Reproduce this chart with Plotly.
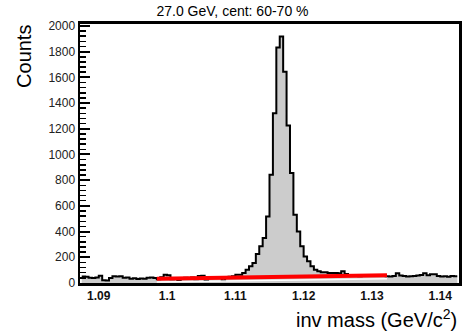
import plotly.graph_objects as go

# ---------------- data ----------------
bin_low = 1.0875
bin_width = 0.0005
counts = [
    50, 48, 40, 38, 42, 57, 22, 20, 38, 52,
    50, 52, 40, 42, 34, 36, 32, 35, 34, 40,
    42, 38, 30, 45, 65, 60, 30, 35, 18, 38,
    40, 35, 42, 30, 55, 57, 20, 40, 44, 38,
    45, 22, 42, 48, 52, 65, 65, 78, 104, 130,
    156, 225, 285, 350, 518, 842, 1320, 1832, 1918, 1644,
    1225, 855, 531, 401, 285, 207, 169, 130, 104, 91,
    84, 84, 78, 78, 78, 76, 91, 70, 60, 55,
    60, 52, 58, 55, 62, 58, 55, 60, 62, 52,
    50, 55, 75, 58, 55, 50, 52, 55, 58, 62,
    75, 60, 68, 68, 55, 50, 52, 48, 55, 52,
]
edges = [bin_low + i * bin_width for i in range(len(counts) + 1)]

fit_x = [1.0985, 1.1322]
fit_y = [34, 60]

x_tick_vals = [1.09, 1.10, 1.11, 1.12, 1.13, 1.14]
x_tick_text = ["1.09", "1.1", "1.11", "1.12", "1.13", "1.14"]
y_tick_vals = [0, 200, 400, 600, 800, 1000, 1200, 1400, 1600, 1800, 2000]
y_tick_text = [str(v) for v in y_tick_vals]

title_text = "27.0 GeV, cent: 60-70 %"
x_title = "inv mass (GeV/c<sup>2</sup>)"
y_title = "Counts"

# ---------------- layout constants ----------------
W, H = 465, 331
ML, MR, MT, MB = 80, 3, 24, 48
PW, PH = W - ML - MR, H - MT - MB
FONT = "Liberation Sans, Arial, sans-serif"
white_offset = 27  # counts below the red line for the white underline


def px2paper(px, py):
    return (px - ML) / PW, (H - MB - py) / PH


fig = go.Figure()
fig.add_trace(go.Scatter(
    x=edges, y=counts + [counts[-1]], mode="lines",
    line=dict(shape="hv", color="black", width=2),
    fill="tozeroy", fillcolor="#cccccc", hoverinfo="skip", showlegend=False))
fig.add_trace(go.Scatter(
    x=fit_x, y=[v - white_offset for v in fit_y], mode="lines",
    line=dict(color="white", width=1.5), hoverinfo="skip", showlegend=False))
fig.add_trace(go.Scatter(
    x=fit_x, y=fit_y, mode="lines",
    line=dict(color="#ff0000", width=4), hoverinfo="skip", showlegend=False))

ax_c, ay_c = px2paper(24, 56.5)
bx_c, by_c = px2paper(462, 318)

fig.update_layout(
    width=W, height=H,
    margin=dict(l=ML, r=MR, t=MT, b=MB, pad=0),
    paper_bgcolor="white", plot_bgcolor="white",
    hovermode=False,
    font=dict(family=FONT, color="black"),
    title=dict(text=title_text, x=0.5, xref="container", xanchor="center",
               y=1 - 11 / H, yref="container", yanchor="middle",
               font=dict(family=FONT, size=14, color="black")),
    xaxis=dict(range=[1.08725, 1.14275], showgrid=False, zeroline=False,
               showline=True, linecolor="black", linewidth=3, mirror=True,
               layer="below traces",
               ticks="inside", ticklen=6, tickwidth=1, tickcolor="black",
               tickvals=x_tick_vals, ticktext=x_tick_text,
               tickfont=dict(family=FONT, size=12, color="#111", weight="bold"),
               minor=dict(tickvals=[1.088 + 0.002 * i for i in range(28)],
                          ticks="inside", ticklen=3, tickcolor="black")),
    yaxis=dict(range=[0, 2015], showgrid=False, zeroline=False,
               showline=True, linecolor="black", linewidth=2.5, mirror=True,
               ticks="inside", ticklen=10, tickwidth=2, tickcolor="black",
               tickvals=y_tick_vals, ticktext=y_tick_text,
               tickfont=dict(family=FONT, size=12, color="#222"),
               minor=dict(dtick=40, ticks="inside", ticklen=6, tickwidth=1.5,
                          tickcolor="black")),
    annotations=[
        dict(text=y_title, x=ax_c, y=ay_c, xref="paper", yref="paper",
             xanchor="center", yanchor="middle", textangle=-90, showarrow=False,
             font=dict(family=FONT, size=20, color="black")),
        dict(text=x_title, x=bx_c, y=by_c, xref="paper", yref="paper",
             xanchor="right", yanchor="middle", showarrow=False,
             font=dict(family=FONT, size=20, color="black")),
    ],
)

fig.write_html("out.html",
               config={"displayModeBar": False, "staticPlot": True},
               post_script="document.body.style.margin='0px';"
                           "document.body.style.overflow='hidden';")
